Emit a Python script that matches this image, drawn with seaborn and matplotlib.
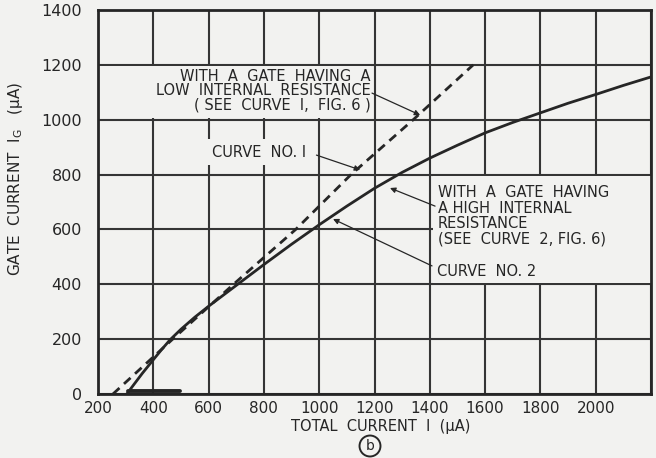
import matplotlib
matplotlib.use("Agg")
import matplotlib.pyplot as plt
from matplotlib.patches import Rectangle
import seaborn as sns

sns.set_theme(style="white")
plt.rcParams["font.family"] = ["DejaVu Sans"]

# curve no. 1 (gate with low internal resistance), dashed
curve1_total = [254, 470, 690, 915, 1115, 1340, 1557]
curve1_gate = [0, 200, 400, 600, 800, 1000, 1200]

# curve no. 2 (gate with high internal resistance), solid
curve2_total = [304, 330, 360, 400, 430, 460, 500, 550, 600, 700, 800, 900, 1000, 1100, 1200,
                1300, 1400, 1500, 1600, 1700, 1800, 1900, 2000, 2100, 2200]
curve2_gate = [0, 35, 75, 125, 162, 197, 236, 280, 320, 396, 472, 546, 617, 685, 750,
               808, 860, 907, 952, 990, 1025, 1060, 1092, 1125, 1156]

# short heavy stub on the axis
stub_total = [308, 497]
stub_gate = [10, 10]

x_ticks = [200, 400, 600, 800, 1000, 1200, 1400, 1600, 1800, 2000, 2200]
x_labels = ["200", "400", "600", "800", "1000", "1200", "1400", "1600", "1800", "2000", ""]
y_ticks = [0, 200, 400, 600, 800, 1000, 1200, 1400]

bg = "#f2f2f0"
ink = "#262626"

fig = plt.figure(figsize=(6.56, 4.58), dpi=100, facecolor=bg)
ax = fig.add_axes([0.1494, 0.1397, 0.843, 0.8385], facecolor=bg)

sns.lineplot(x=curve2_total, y=curve2_gate, ax=ax, color=ink, lw=2.0, zorder=3)
sns.lineplot(x=curve1_total, y=curve1_gate, ax=ax, color=ink, lw=2.0, zorder=3)
ax.lines[-1].set_dashes((3.2, 2.2))
sns.lineplot(x=stub_total, y=stub_gate, ax=ax, color=ink, lw=2.8, zorder=3)

ax.set_xlim(200, 2200)
ax.set_ylim(0, 1400)
ax.set_xticks(x_ticks)
ax.set_xticklabels(x_labels)
ax.set_yticks(y_ticks)
ax.grid(True, color="#353535", lw=1.5)
ax.set_axisbelow(True)
ax.tick_params(axis="both", length=0, colors=ink)
ax.tick_params(axis="y", pad=11.5, labelsize=11.5)
ax.tick_params(axis="x", pad=5, labelsize=11)
for s in ax.spines.values():
    s.set_color(ink)
    s.set_linewidth(2.0)
ax.set_xlabel(None)
ax.set_ylabel(None)

# blank areas behind the notes
ax.add_patch(Rectangle((200, 1006), 988, 188, facecolor=bg, edgecolor="none", zorder=1))
ax.add_patch(Rectangle((1410, 406), 790, 388, facecolor=bg, edgecolor="none", zorder=1))

note_size = 10.5
ax.text(1186, 1105, "WITH  A  GATE  HAVING  A\nLOW  INTERNAL  RESISTANCE\n( SEE  CURVE  I,  FIG. 6 )",
        ha="right", va="center", multialignment="right", fontsize=note_size, linespacing=0.95,
        color=ink, zorder=4)
ax.text(612, 882, "CURVE  NO. I", ha="left", va="center", fontsize=note_size, color=ink, zorder=4,
        bbox=dict(facecolor=bg, edgecolor="none", pad=4))
ax.text(1430, 649, "WITH  A  GATE  HAVING\nA HIGH  INTERNAL\nRESISTANCE\n(SEE  CURVE  2, FIG. 6)",
        ha="left", va="center", fontsize=note_size, linespacing=1.05, color=ink, zorder=4)
ax.text(1427, 445, "CURVE  NO. 2", ha="left", va="center", fontsize=note_size, color=ink, zorder=4)

arrow = dict(arrowstyle="-|>", lw=0.9, color=ink, mutation_scale=8, shrinkA=0, shrinkB=0)
ax.annotate("", xy=(1365, 1017), xytext=(1191, 1097), arrowprops=arrow, zorder=4)
ax.annotate("", xy=(1148, 817), xytext=(990, 871), arrowprops=arrow, zorder=4)
ax.annotate("", xy=(1256, 751), xytext=(1419, 685), arrowprops=arrow, zorder=4)
ax.annotate("", xy=(1050, 638), xytext=(1408, 467), arrowprops=arrow, zorder=4)

fig.text(16 / 656, 1 - 179 / 458, "GATE  CURRENT  I$_{\\rm G}$   (\u03bcA)", rotation=90,
         ha="center", va="center", fontsize=11, color=ink)
fig.text(381 / 656, 1 - 426 / 458, "TOTAL  CURRENT  I  (\u03bcA)", ha="center", va="center",
         fontsize=10.5, color=ink)
fig.text(370 / 656, 1 - 446 / 458, "b", ha="center", va="center", fontsize=10, color=ink,
         bbox=dict(boxstyle="circle,pad=0.25", facecolor="none", edgecolor=ink, lw=1.4))

plt.savefig("out.png", dpi=100, facecolor=bg)
